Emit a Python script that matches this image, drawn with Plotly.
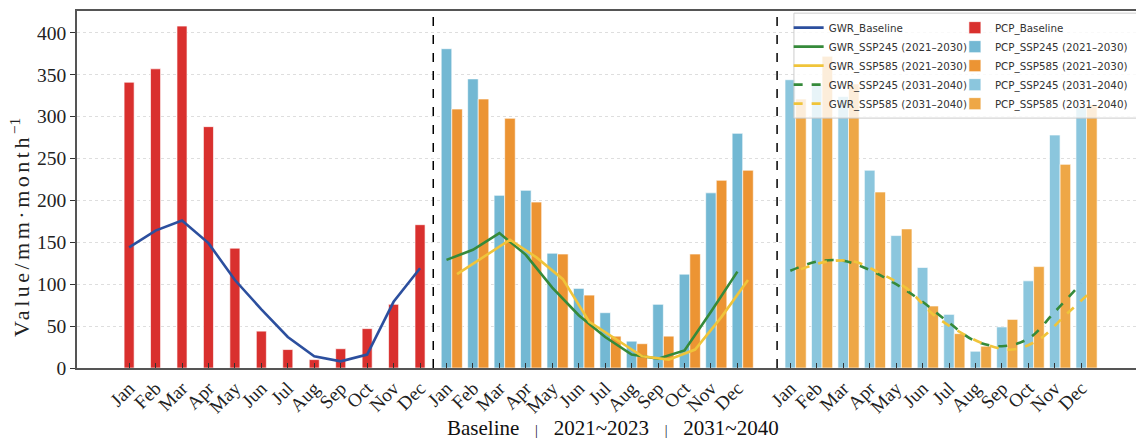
import numpy as np
import plotly.graph_objects as go

months = ["Jan", "Feb", "Mar", "Apr", "May", "Jun", "Jul", "Aug", "Sep", "Oct", "Nov", "Dec"]

# Baseline
pcp_baseline = [341, 357, 408, 288, 143, 44, 22, 10, 23, 47, 76, 171]
gwr_baseline = [144, 164, 176, 149, 105, 70, 37, 14, 8, 16, 79, 119]

# 2021-2030
pcp_ssp245_2130 = [381, 345, 206, 212, 137, 95, 66, 32, 76, 112, 209, 280]
pcp_ssp585_2130 = [309, 321, 298, 198, 136, 87, 38, 29, 38, 136, 224, 236]
gwr_ssp245_2130 = [129, 141, 161, 135, 96, 63, 37, 16, 11, 21, 67, 115]
gwr_ssp585_2130 = [112, 132, 153, 132, 106, 55, 35, 14, 10, 22, 61, 105]

# 2031-2040
pcp_ssp245_3140 = [344, 338, 324, 236, 158, 120, 64, 20, 49, 104, 278, 311]
pcp_ssp585_3140 = [321, 372, 339, 210, 166, 74, 41, 26, 58, 121, 243, 314]
gwr_ssp245_3140 = [116, 127, 128, 117, 100, 79, 54, 32, 26, 35, 67, 101]
gwr_ssp585_3140 = [118, 127, 127, 113, 95, 64, 43, 28, 22, 34, 63, 92]

yticks = [0, 50, 100, 150, 200, 250, 300, 350, 400]
section_titles = ["Baseline", "2021~2023", "2031~2040"]

# layout positions
base_x = np.arange(12)
sec2_x = base_x + 12
sec3_x = base_x + 25
W = 0.4

C_RED = "#d9302e"
C_GWRB = "#2c4f9e"
C_GREEN = "#358a3a"
C_YEL = "#f0c43a"
C_B1 = "#73b8d3"
C_O1 = "#ec9433"
C_B2 = "#8bc6dd"
C_O2 = "#eea746"

fig = go.Figure()

def bar(x, y, color, name, width=W):
    fig.add_trace(go.Bar(x=x, y=y, width=width,
                         marker=dict(color=color, line=dict(color="rgba(255,255,255,0.8)", width=0.8)),
                         name=name, legend="legend2"))

def line(x, y, color, name, dash="solid", shape="linear"):
    fig.add_trace(go.Scatter(x=x, y=y, mode="lines", name=name,
                             line=dict(color=color, width=2.6, dash=dash, shape=shape, smoothing=1.0),
                             legend="legend"))

bar(base_x, pcp_baseline, C_RED, "PCP_Baseline", width=0.38)
bar(sec2_x, pcp_ssp245_2130, C_B1, "PCP_SSP245 (2021–2030)")
bar(sec2_x + W, pcp_ssp585_2130, C_O1, "PCP_SSP585 (2021–2030)")
bar(sec3_x, pcp_ssp245_3140, C_B2, "PCP_SSP245 (2031–2040)")
bar(sec3_x + W, pcp_ssp585_3140, C_O2, "PCP_SSP585 (2031–2040)")

line(base_x, gwr_baseline, C_GWRB, "GWR_Baseline")
line(sec2_x, gwr_ssp245_2130, C_GREEN, "GWR_SSP245 (2021–2030)")
line(sec2_x + W, gwr_ssp585_2130, C_YEL, "GWR_SSP585 (2021–2030)")
line(sec3_x, gwr_ssp245_3140, C_GREEN, "GWR_SSP245 (2031–2040)", dash="dash", shape="spline")
line(sec3_x + W, gwr_ssp585_3140, C_YEL, "GWR_SSP585 (2031–2040)", dash="dash", shape="spline")

tickvals = list(base_x) + list(sec2_x) + list(sec3_x)
ticktext = months * 3

serif = "Liberation Serif, Times New Roman, serif"
legfont = dict(family="DejaVu Sans", size=10.3, color="#333")

fig.update_layout(
    width=1136, height=439,
    margin=dict(l=77, r=0, t=11, b=71, autoexpand=False),
    plot_bgcolor="white", paper_bgcolor="white",
    barmode="overlay",
    font=dict(family=serif, color="#222"),
    xaxis=dict(range=[-1.97, 38.07], tickvals=tickvals, ticktext=ticktext, tickangle=-45,
               ticks="inside", ticklen=5, tickcolor="#333", tickwidth=1,
               showline=True, linecolor="#555", linewidth=1.6, mirror=True,
               showgrid=False, zeroline=False,
               tickfont=dict(family=serif, size=19, color="#222")),
    yaxis=dict(range=[0, 426], tickvals=yticks, ticks="outside", ticklen=5, tickcolor="#333",
               showline=True, linecolor="#555", linewidth=1.6,
               showgrid=True, gridcolor="#dedede", griddash="dot", gridwidth=1,
               zeroline=False, tickfont=dict(family=serif, size=19.5, color="#222")),
    legend=dict(x=0.672, y=0.994, xanchor="left", yanchor="top", bgcolor="rgba(0,0,0,0)",
                borderwidth=0, font=legfont, tracegroupgap=0, itemwidth=30),
    legend2=dict(x=0.829, y=0.994, xanchor="left", yanchor="top", bgcolor="rgba(0,0,0,0)",
                 borderwidth=0, font=legfont, tracegroupgap=0, itemwidth=30),
    showlegend=True,
)

# section separators
for xs in [11.5, 24.5]:
    fig.add_shape(type="line", xref="x", yref="paper", x0=xs, x1=xs, y0=0, y1=1,
                  line=dict(color="black", width=1.5, dash="dash"))

# legend frame
fig.add_shape(type="rect", xref="paper", yref="paper", x0=0.677, x1=1.02, y0=0.70, y1=0.994,
              line=dict(color="#cccccc", width=1), fillcolor="rgba(255,255,255,0.8)", layer="above")

# axis titles as annotations
fig.add_annotation(text="<span style='letter-spacing:3.5px'>Value/mm·month</span><sup>−1</sup>",
                   textangle=-90, xref="paper", yref="paper",
                   x=-0.0538, y=0.392, xanchor="center", yanchor="middle", showarrow=False,
                   font=dict(family=serif, size=22, color="#222"))
sep = "\u00a0\u00a0\u00a0<span style='font-size:14px'>|</span>\u00a0\u00a0\u00a0"
fig.add_annotation(text=sep.join(section_titles),
                   xref="paper", yref="paper", x=0.5057, y=-0.168, xanchor="center", yanchor="middle",
                   showarrow=False, font=dict(family=serif, size=21, color="#111"))

fig.write_html("out.html")
